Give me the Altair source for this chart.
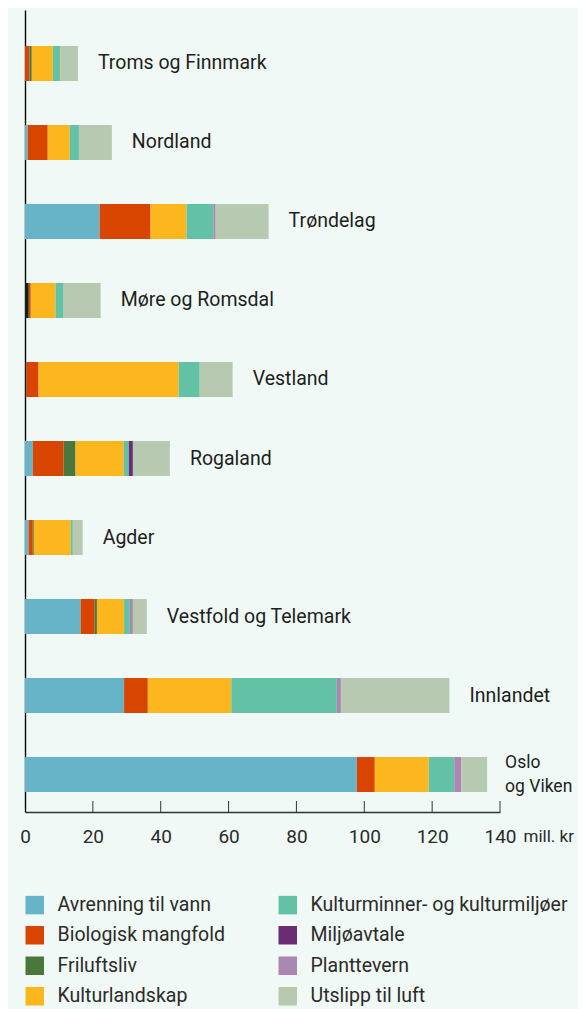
import altair as alt
import pandas as pd

regions = ["Troms og Finnmark", "Nordland", "Trøndelag", "Møre og Romsdal", "Vestland",
           "Rogaland", "Agder", "Vestfold og Telemark", "Innlandet", "Oslo og Viken"]
region_labels = ["Troms og Finnmark", "Nordland", "Trøndelag", "Møre og Romsdal", "Vestland",
                 "Rogaland", "Agder", "Vestfold og Telemark", "Innlandet", "Oslo\nog Viken"]

categories = ["Annet", "Avrenning til vann", "Biologisk mangfold", "Friluftsliv", "Kulturlandskap",
              "Kulturminner- og kulturmiljøer", "Miljøavtale", "Planttevern", "Utslipp til luft"]
colors = ["#0b2318", "#67b3c8", "#d84500", "#4a773c", "#fdb71e",
          "#63c2a6", "#6b2c74", "#a987b0", "#b7c9b1"]

annet          = [0.0, 0.0, 0.0, 1.1, 0.4, 0.0, 0.0, 0.0, 0.0, 0.0]
avrenning      = [0.0, 0.8, 22.0, 0.0, 0.0, 2.3, 1.1, 16.4, 29.2, 97.8]
biologisk      = [1.3, 5.9, 15.0, 0.6, 3.6, 9.1, 1.2, 4.1, 7.0, 5.3]
friluftsliv    = [0.7, 0.0, 0.0, 0.0, 0.0, 3.5, 0.3, 0.7, 0.0, 0.0]
kulturlandskap = [6.2, 6.5, 10.6, 7.3, 41.3, 14.2, 10.9, 8.0, 24.6, 15.9]
kulturminner   = [2.1, 2.7, 7.9, 2.4, 6.2, 1.5, 0.6, 1.7, 31.1, 7.5]
miljoavtale    = [0.0, 0.0, 0.0, 0.0, 0.0, 1.2, 0.0, 0.0, 0.0, 0.0]
planttevern    = [0.0, 0.0, 0.7, 0.0, 0.0, 0.0, 0.0, 0.9, 1.2, 2.1]
utslipp        = [5.3, 9.7, 15.6, 10.9, 9.7, 10.9, 2.9, 4.1, 32.0, 7.6]

tick_values = [20, 40, 60, 80, 100, 120, 140]

series = [annet, avrenning, biologisk, friluftsliv, kulturlandskap,
          kulturminner, miljoavtale, planttevern, utslipp]

rows = []
for ci, (cat, vals) in enumerate(zip(categories, series)):
    for r, v in zip(regions, vals):
        rows.append({"region": r, "kategori": cat, "verdi": v, "order": ci})
df = pd.DataFrame(rows)

totals = pd.DataFrame({
    "region": regions,
    "label": region_labels,
    "total": [sum(s[i] for s in series) for i in range(len(regions))],
    "multi": ["\n" in l for l in region_labels],
})
ticks = pd.DataFrame({"t": tick_values})

H = 802
W = 475
FONT = "Roboto"
TXT = "#1e1e1e"

legend_order = categories[1:]

xscale = alt.Scale(domain=[0, 140], nice=False)
yscale = alt.Scale(domain=regions, paddingInner=0.557, paddingOuter=0.354, align=0.643)

bars = alt.Chart(df).mark_bar().encode(
    x=alt.X("sum(verdi):Q", scale=xscale, stack="zero",
            axis=alt.Axis(values=[0, 20, 40, 60, 80, 100, 120, 140], tickSize=0,
                          labelFlush=False, labelOverlap=False,
                          labelPadding=24, labelBaseline="middle", labelFontSize=19,
                          labelColor="#2b2b2b", labelFont=FONT, domainColor="#333333",
                          domainWidth=1.3, grid=False, title="mill. kr",
                          titleX=498, titleY=24, titleAlign="left", titleBaseline="middle",
                          titleFontSize=17, titleFontWeight="normal", titleColor="#2b2b2b",
                          titleFont=FONT, titleAngle=0)),
    y=alt.Y("region:N", scale=yscale, sort=regions,
            axis=alt.Axis(labels=False, ticks=False, title=None, domainColor="#000000",
                          domainWidth=1.4, grid=False)),
    color=alt.Color("kategori:N", scale=alt.Scale(domain=categories, range=colors),
                    legend=alt.Legend(values=legend_order, orient="none", legendX=0, legendY=885,
                                      columns=2, columnPadding=53, rowPadding=9.5,
                                      symbolType="square", symbolSize=342, symbolStrokeWidth=0,
                                      symbolOpacity=1, labelOffset=13, labelFontSize=19.5,
                                      labelFont=FONT, labelColor="#2b2b2b", labelLimit=400,
                                      title=None, padding=0)),
    order=alt.Order("order:Q", sort="ascending"),
)

labels_single = alt.Chart(totals).transform_filter("!datum.multi").mark_text(
    align="left", baseline="middle", dx=20, fontSize=19.5, font=FONT, color=TXT).encode(
    x=alt.X("total:Q", scale=xscale),
    y=alt.Y("region:N", scale=yscale, sort=regions),
    text="label:N",
)

labels_multi = alt.Chart(totals).transform_filter("datum.multi").mark_text(
    align="left", baseline="middle", dx=18, dy=-12, fontSize=17.5, font=FONT, color=TXT,
    lineBreak="\n", lineHeight=24).encode(
    x=alt.X("total:Q", scale=xscale),
    y=alt.Y("region:N", scale=yscale, sort=regions),
    text="label:N",
)

tick_marks = alt.Chart(ticks).mark_rule(color="#333333", strokeWidth=1).encode(
    x=alt.X("t:Q", scale=xscale),
    y=alt.value(H - 11),
    y2=alt.value(H),
)

chart = alt.layer(bars, labels_single, labels_multi, tick_marks).properties(
    width=W, height=H,
    background="#f0f9f5",
    padding={"left": 17, "top": 2, "right": 78, "bottom": 197},
    autosize=alt.AutoSizeParams(type="none"),
).configure_view(stroke=None)

chart.save("out.html", embed_options={"renderer": "svg", "actions": False})
